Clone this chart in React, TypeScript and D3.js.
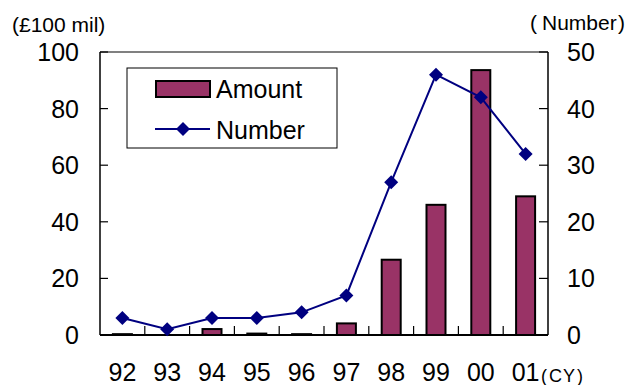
import React from "react";
import * as d3 from "d3";

const years = ["92", "93", "94", "95", "96", "97", "98", "99", "00", "01"];
const amount = [0.3, 0, 2.1, 0.5, 0.3, 4.1, 26.6, 46, 93.6, 49];
const number = [3, 1, 3, 3, 4, 7, 27, 46, 42, 32];
const leftTicks = [0, 20, 40, 60, 80, 100];
const rightTicks = [0, 10, 20, 30, 40, 50];

const W = 633, H = 385;
const L = 100, R = 548, T = 52, B = 335;
const FONT = "'Liberation Sans', Arial, sans-serif";

export default function App() {
  const x = d3.scaleBand<string>().domain(years).range([L, R]).padding(0);
  const yL = d3.scaleLinear().domain([0, 100]).range([B, T]);
  const yR = d3.scaleLinear().domain([0, 50]).range([B, T]);
  const bw = 19;
  const line = d3
    .line<number>()
    .x((_, i) => x(years[i])! + x.bandwidth() / 2)
    .y((d) => yR(d));
  const diamond = (cx: number, cy: number, r = 7) =>
    `M${cx},${cy - r}L${cx + r},${cy}L${cx},${cy + r}L${cx - r},${cy}Z`;

  return (
    <svg width={W} height={H} style={{ position: "absolute", left: 0, top: 0, background: "#fff" }} fontFamily={FONT}>
      <rect width={W} height={H} fill="#fff" />
      <line x1={L} x2={R} y1={T} y2={T} stroke="#808080" strokeWidth={2} />
      {amount.map((v, i) => (
        <rect
          key={i}
          x={x(years[i])! + x.bandwidth() / 2 - bw / 2}
          y={yL(v)}
          width={bw}
          height={B - yL(v)}
          fill="#993366"
          stroke="#000"
          strokeWidth={2}
        />
      ))}
      <line x1={L} x2={L} y1={T} y2={B} stroke="#000" strokeWidth={1.5} />
      <line x1={R} x2={R} y1={T} y2={B} stroke="#000" strokeWidth={1.5} />
      <line x1={L} x2={R} y1={B} y2={B} stroke="#000" strokeWidth={2} />
      {leftTicks.map((t) => (
        <g key={"l" + t}>
          <line x1={L} x2={L + 8} y1={yL(t)} y2={yL(t)} stroke="#000" strokeWidth={1.2} />
          <text x={79} y={yL(t)} dy="0.36em" textAnchor="end" fontSize={25}>{t}</text>
        </g>
      ))}
      {rightTicks.map((t) => (
        <g key={"r" + t}>
          <line x1={R - 9} x2={R} y1={yR(t)} y2={yR(t)} stroke="#000" strokeWidth={1.2} />
          <text x={567} y={yR(t)} dy="0.36em" textAnchor="start" fontSize={25}>{t}</text>
        </g>
      ))}
      {years.map((y, i) =>
        i > 0 ? (
          <line key={"t" + y} x1={x(y)!} x2={x(y)!} y1={B} y2={B - 9} stroke="#000" strokeWidth={1.2} />
        ) : null
      )}
      {years.map((y) => (
        <text key={"x" + y} x={x(y)! + x.bandwidth() / 2} y={381} textAnchor="middle" fontSize={25}>{y}</text>
      ))}
      <path d={line(number)!} fill="none" stroke="#000080" strokeWidth={2} />
      {number.map((v, i) => (
        <path key={"d" + i} d={diamond(x(years[i])! + x.bandwidth() / 2, yR(v))} fill="#000080" />
      ))}
      <text x={12} y={32} fontSize={21}>(£100 mil)</text>
      <text x={530} y={30} fontSize={21}>(</text>
      <text x={542} y={30} fontSize={21}>Number</text>
      <text x={618} y={30} fontSize={21}>)</text>
      <text x={541} y={382} fontSize={18}>(</text>
      <text x={549} y={382} fontSize={18} letterSpacing={1}>CY</text>
      <text x={577} y={382} fontSize={18}>)</text>
      <rect x={127} y={68} width={210} height={80} fill="#fff" stroke="#000" strokeWidth={1} />
      <rect x={156} y={81} width={54} height={16} fill="#993366" stroke="#000" strokeWidth={2} />
      <text x={216} y={98} fontSize={25}>Amount</text>
      <line x1={155} x2={210} y1={129} y2={129} stroke="#000080" strokeWidth={2} />
      <path d={diamond(183, 129, 7)} fill="#000080" />
      <text x={216} y={139} fontSize={25}>Number</text>
    </svg>
  );
}
